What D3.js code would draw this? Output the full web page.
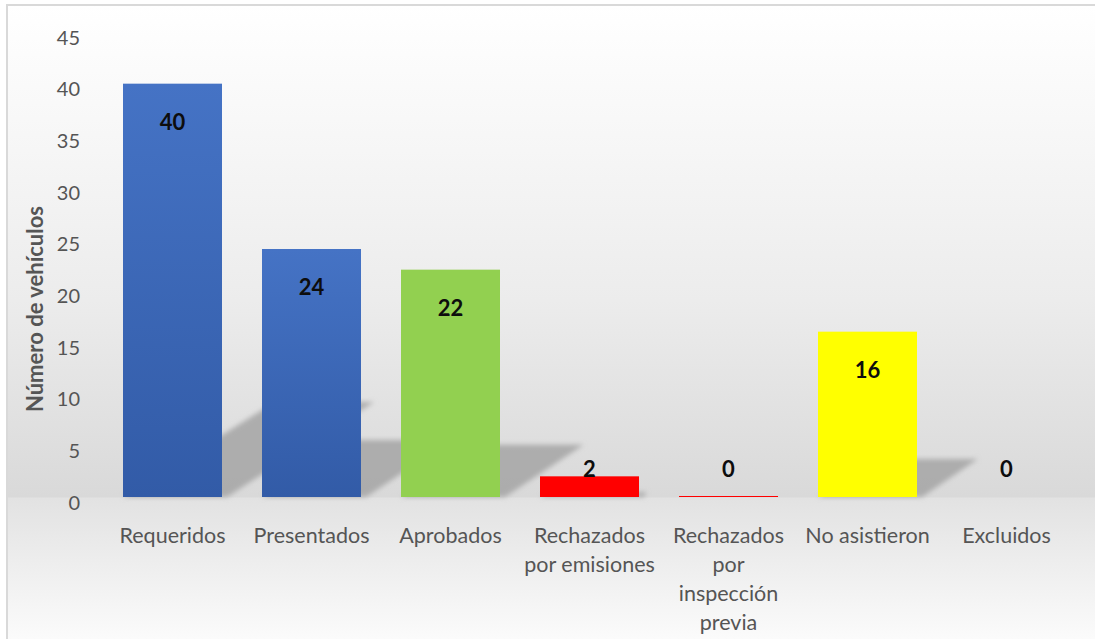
<!DOCTYPE html>
<html>
<head>
<meta charset="utf-8">
<script src="https://cdn.jsdelivr.net/npm/d3@7/dist/d3.min.js"></script>
<style>
  html, body { margin: 0; padding: 0; background: #ffffff; }
  svg { display: block; }
</style>
</head>
<body>
<svg id="chart" width="1095" height="639"></svg>
<script>
// ---- data ----
const categories = ["Requeridos", "Presentados", "Aprobados", "Rechazados por emisiones",
                    "Rechazados por inspección previa", "No asistieron", "Excluidos"];
const values = [40, 24, 22, 2, 0, 16, 0];
const categoryLabelLines = [["Requeridos"], ["Presentados"], ["Aprobados"],
                            ["Rechazados", "por emisiones"],
                            ["Rechazados", "por", "inspección", "previa"],
                            ["No asistieron"], ["Excluidos"]];
const yTicks = [0, 5, 10, 15, 20, 25, 30, 35, 40, 45];
const yTitle = "Número de vehículos";

// ---- styles ----
const barFill = {
  "Requeridos": "url(#blueGrad)",
  "Presentados": "url(#blueGrad)",
  "Aprobados": "#92d050",
  "Rechazados por emisiones": "#ff0000",
  "Rechazados por inspección previa": "#ff0000",
  "No asistieron": "#ffff00",
  "Excluidos": "none"
};
const FONT = "Lato, 'Open Sans', sans-serif";

const svg = d3.select("#chart");
const defs = svg.append("defs");

// background gradient
const bg = defs.append("linearGradient").attr("id", "bgGrad")
  .attr("gradientUnits", "userSpaceOnUse").attr("x1", 0).attr("x2", 0).attr("y1", 5).attr("y2", 639);
[[5, "#ffffff"], [150, "#f6f6f6"], [300, "#ececec"], [497, "#d9d9d9"], [498, "#e2e2e2"], [560, "#ededed"], [639, "#fbfbfb"]]
  .forEach(([yy, c]) => bg.append("stop").attr("offset", (yy - 5) / 634).attr("stop-color", c));

const bgBlue = defs.append("linearGradient").attr("id", "blueGrad")
  .attr("x1", 0).attr("x2", 0).attr("y1", 0).attr("y2", 1);
bgBlue.append("stop").attr("offset", 0).attr("stop-color", "#4573c5");
bgBlue.append("stop").attr("offset", 1).attr("stop-color", "#325ba7");

const blur = defs.append("filter").attr("id", "shadowBlur")
  .attr("x", "-20%").attr("y", "-20%").attr("width", "140%").attr("height", "140%");
blur.append("feGaussianBlur").attr("stdDeviation", 2.4);

// chart area
svg.append("rect").attr("x", 7).attr("y", 5).attr("width", 1200).attr("height", 700)
  .attr("fill", "url(#bgGrad)").attr("stroke", "#d9d9d9").attr("stroke-width", 2);

// scales
const x = d3.scaleBand().domain(categories).range([103, 1076])
  .paddingInner(40 / 139).paddingOuter(20 / 139);
const y = d3.scaleLinear().domain([0, 45]).range([497, 32]);
const y0 = y(0);

const data = categories.map((c, i) => ({ c, v: values[i], lines: categoryLabelLines[i] }));

// shadows
svg.append("g").attr("filter", "url(#shadowBlur)")
  .selectAll("path").data(data.filter(d => d.v > 0)).join("path")
  .attr("d", d => {
    const x0 = x(d.c), x1 = x(d.c) + x.bandwidth();
    const h = y0 - y(d.v);
    const sh = 0.23 * h, dx = 1.6 * sh;
    return `M${x0},${y0} L${x1 + 5},${y0} L${x1 + dx},${y0 - sh} L${x0 + dx},${y0 - sh} Z`;
  })
  .attr("fill", "#a4a4a4").attr("fill-opacity", 0.85);

// bars
svg.append("g").selectAll("rect").data(data).join("rect")
  .attr("x", d => x(d.c))
  .attr("width", x.bandwidth())
  .attr("y", d => Math.min(y(d.v), y0 - 1))
  .attr("height", d => Math.max(y0 - y(d.v), 1))
  .attr("fill", d => barFill[d.c]);

// y axis
const yAxis = svg.append("g").attr("transform", "translate(80,0)")
  .call(d3.axisLeft(y).tickValues(yTicks).tickSize(0).tickPadding(0));
yAxis.select(".domain").remove();
yAxis.selectAll("text").attr("dy", "12px").attr("x", 0)
  .style("font-family", FONT).style("font-size", "20px").attr("fill", "#555555");

// x axis
const xAxis = svg.append("g").attr("transform", `translate(0,${y0})`)
  .call(d3.axisBottom(x).tickSize(0).tickPadding(0));
xAxis.select(".domain").remove();
xAxis.selectAll(".tick text").each(function (c) {
  const t = d3.select(this);
  const lines = categoryLabelLines[categories.indexOf(c)];
  t.text(null).attr("y", 46).attr("dy", null)
    .style("font-family", FONT).style("font-size", "21.5px").attr("fill", "#555555");
  lines.forEach((ln, i) => t.append("tspan").attr("x", 0).attr("dy", i === 0 ? 0 : 29).text(ln));
});

// data labels
svg.append("g").selectAll("text").data(data).join("text")
  .attr("x", d => x(d.c) + x.bandwidth() / 2)
  .attr("y", d => Math.min(y(d.v) + 46, y0 - 20))
  .attr("text-anchor", "middle")
  .style("font-family", FONT).style("font-size", "22px").style("font-weight", "bold")
  .attr("fill", "#0d0d0d")
  .text(d => d.v);

// y title
svg.append("text").attr("transform", "translate(43,309) rotate(-90)")
  .attr("text-anchor", "middle")
  .style("font-family", FONT).style("font-size", "22px").style("font-weight", "bold")
  .attr("fill", "#555555").text(yTitle);
</script>
</body>
</html>
